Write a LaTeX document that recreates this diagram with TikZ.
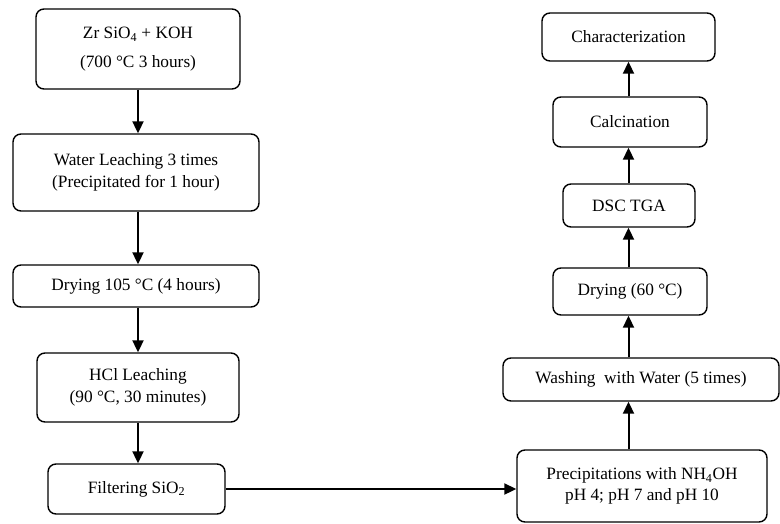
\documentclass[tikz,border=0pt]{standalone}
\usepackage{fontspec}
\setmainfont{Liberation Serif}
\usetikzlibrary{arrows.meta}

\begin{document}
\begin{tikzpicture}[x=1pt, y=-1pt, font=\fontsize{17.3}{21.5}\selectfont,
      stage/.style={draw, line width=1.4pt, rounded corners=8pt, align=center, inner sep=0pt},
      arr/.style={-{Triangle[length=12pt, width=11pt]}, line width=2pt}]
    \useasboundingbox (0,0) rectangle (780,523);
    % left column: from the melt down to the silica filter
    \node[stage, minimum width=204, minimum height=80] (fuse) at (138,49) {Zr SiO\textsubscript{4} + KOH\\[7pt](700 \textdegree C 3 hours)};
    \node[stage, minimum width=246, minimum height=77] (leach) at (136,172.5) {Water Leaching 3 times\\(Precipitated for 1 hour)};
    \node[stage, minimum width=246, minimum height=42] (dryhot) at (136,286) {Drying 105 \textdegree C (4 hours)};
    \node[stage, minimum width=202, minimum height=69] (hcl) at (138,387.5) {HCl Leaching\\(90 \textdegree C, 30 minutes)};
    \node[stage, minimum width=177, minimum height=50] (filter) at (136.5,489) {Filtering SiO\textsubscript{2}};
    % right column: precipitation up to characterization
    \node[stage, minimum width=250, minimum height=72] (precip) at (642,486) {Precipitations with NH\textsubscript{4}OH\\pH 4; pH 7 and pH 10};
    \node[stage, minimum width=276, minimum height=43] (wash) at (641,379.5) {Washing\ \ with Water (5 times)};
    \node[stage, minimum width=154, minimum height=47] (drywarm) at (630,291.5) {Drying (60 \textdegree C)};
    \node[stage, minimum width=132, minimum height=43] (dsc) at (629,205.5) {DSC TGA};
    \node[stage, minimum width=154, minimum height=50] (calc) at (630,122) {Calcination};
    \node[stage, minimum width=173, minimum height=48] (char) at (628.5,37) {Characterization};
    \draw[arr] (fuse.south) -- (fuse.south |- leach.north);
    \draw[arr] (fuse.south |- leach.south) -- (fuse.south |- dryhot.north);
    \draw[arr] (fuse.south |- dryhot.south) -- (hcl.north);
    \draw[arr] (hcl.south) -- (hcl.south |- filter.north);
    \draw[arr] (filter.east) -- (filter.east -| precip.west);
    \draw[arr] (precip.north -| char.south) -- (wash.south -| char.south);
    \draw[arr] (wash.north -| char.south) -- (drywarm.south -| char.south);
    \draw[arr] (drywarm.north -| char.south) -- (dsc.south -| char.south);
    \draw[arr] (dsc.north -| char.south) -- (calc.south -| char.south);
    \draw[arr] (calc.north -| char.south) -- (char.south);
  \end{tikzpicture}
\end{document}
